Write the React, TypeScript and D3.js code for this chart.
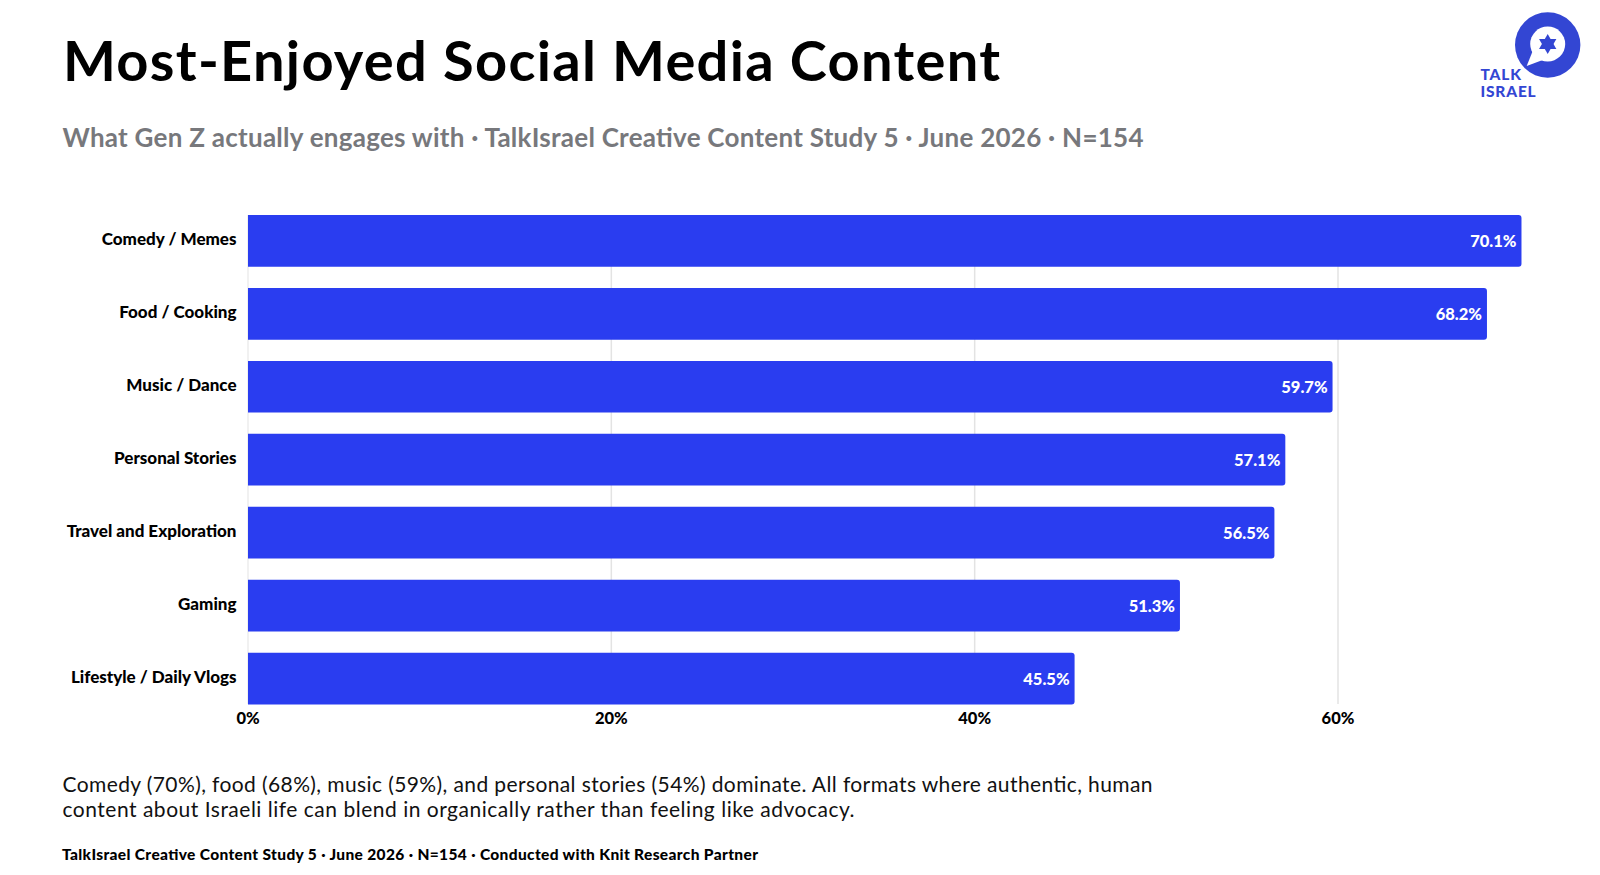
import React from "react";
import * as d3 from "d3";

const categories = [
  "Comedy / Memes",
  "Food / Cooking",
  "Music / Dance",
  "Personal Stories",
  "Travel and Exploration",
  "Gaming",
  "Lifestyle / Daily Vlogs",
];
const values = [70.1, 68.2, 59.7, 57.1, 56.5, 51.3, 45.5];
const tickValues = [0, 20, 40, 60];

const titleText = "Most-Enjoyed Social Media Content";
const subtitleText =
  "What Gen Z actually engages with · TalkIsrael Creative Content Study 5 · June 2026 · N=154";
const bodyLines = [
  "Comedy (70%), food (68%), music (59%), and personal stories (54%) dominate. All formats where authentic, human",
  "content about Israeli life can blend in organically rather than feeling like advocacy.",
];
const footerText =
  "TalkIsrael Creative Content Study 5 · June 2026 · N=154 · Conducted with Knit Research Partner";

const BLUE = "#2a3df0";
const LOGO = "#3346d3";
const FONT = "Lato, 'Open Sans', sans-serif";

// bar with only the right corners rounded
function barPath(x0: number, x1: number, y: number, h: number, r: number) {
  const p = d3.path();
  p.moveTo(x0, y);
  p.lineTo(x1 - r, y);
  p.quadraticCurveTo(x1, y, x1, y + r);
  p.lineTo(x1, y + h - r);
  p.quadraticCurveTo(x1, y + h, x1 - r, y + h);
  p.lineTo(x0, y + h);
  p.closePath();
  return p.toString();
}

function Logo() {
  const cx = 1547.7;
  const cy = 45;
  const hexagram = (rot: number) =>
    d3.range(3).map((i) => {
      const a = rot + (i * 2 * Math.PI) / 3;
      return [cx + 10 * Math.sin(a), cy - 1 - 10 * Math.cos(a)] as [number, number];
    });
  const tri = d3.line().curve(d3.curveLinearClosed);
  return (
    <g>
      <circle cx={cx} cy={cy} r={32.7} fill={LOGO} />
      <circle cx={cx} cy={cy - 1} r={17.5} fill="#fff" />
      <path
        d={`M${cx - 15} ${cy + 6} L${cx - 21} ${cy + 21} L${cx - 5} ${cy + 15} Z`}
        fill="#fff"
      />
      <path d={tri(hexagram(0)) as string} fill={LOGO} />
      <path d={tri(hexagram(Math.PI)) as string} fill={LOGO} />
      <g fontFamily={FONT} fontWeight={900} fontSize={15.5} fill={LOGO} letterSpacing={0.8}>
        <text x={1480.5} y={80}>TALK</text>
        <text x={1480.5} y={97}>ISRAEL</text>
      </g>
    </g>
  );
}

export default function App() {
  const x = d3.scaleLinear().domain([0, 60]).range([248, 1338]);
  const y = d3
    .scaleBand<string>()
    .domain(categories)
    .range([215, 704.4])
    .paddingInner(0.291)
    .paddingOuter(0);
  const h = y.bandwidth();

  return (
    <svg
      width={1600}
      height={875}
      viewBox="0 0 1600 875"
      style={{ position: "absolute", left: 0, top: 0, background: "#fff" }}
      fontFamily={FONT}
    >
      <text x={63} y={81} fontSize={56} fontWeight={700} fill="#000" textLength={937}>
        {titleText}
      </text>
      <text x={62.5} y={147} fontSize={26} fontWeight={700} fill="#77787c" textLength={1081}>
        {subtitleText}
      </text>
      <Logo />

      {tickValues.map((t) => (
        <line
          key={t}
          x1={x(t)}
          x2={x(t)}
          y1={215}
          y2={704}
          stroke="#e3e3e3"
          strokeWidth={t === 0 ? 1 : 1.5}
        />
      ))}

      {categories.map((c, i) => {
        const top = y(c) as number;
        return (
          <g key={c}>
            <path d={barPath(x(0), x(values[i]), top, h, 3)} fill={BLUE} />
            <text
              x={236.5}
              y={top + h / 2 + 4}
              textAnchor="end"
              fontSize={17}
              fontWeight={900}
              fill="#000"
            >
              {c}
            </text>
            <text
              x={x(values[i]) - 5}
              y={top + h / 2 + 6}
              textAnchor="end"
              fontSize={16.5}
              fontWeight={900}
              fill="#fff"
            >
              {values[i].toFixed(1)}%
            </text>
          </g>
        );
      })}

      {tickValues.map((t) => (
        <text
          key={t}
          x={x(t)}
          y={724}
          textAnchor="middle"
          fontSize={16.5}
          fontWeight={900}
          fill="#000"
        >
          {t}%
        </text>
      ))}

      <text x={62.5} y={792} fontSize={21} fill="#111" textLength={1090}>
        {bodyLines[0]}
      </text>
      <text x={62.5} y={817} fontSize={21} fill="#111" textLength={792}>
        {bodyLines[1]}
      </text>
      <text x={62} y={860} fontSize={15.5} fontWeight={900} fill="#000" textLength={696}>
        {footerText}
      </text>
    </svg>
  );
}
